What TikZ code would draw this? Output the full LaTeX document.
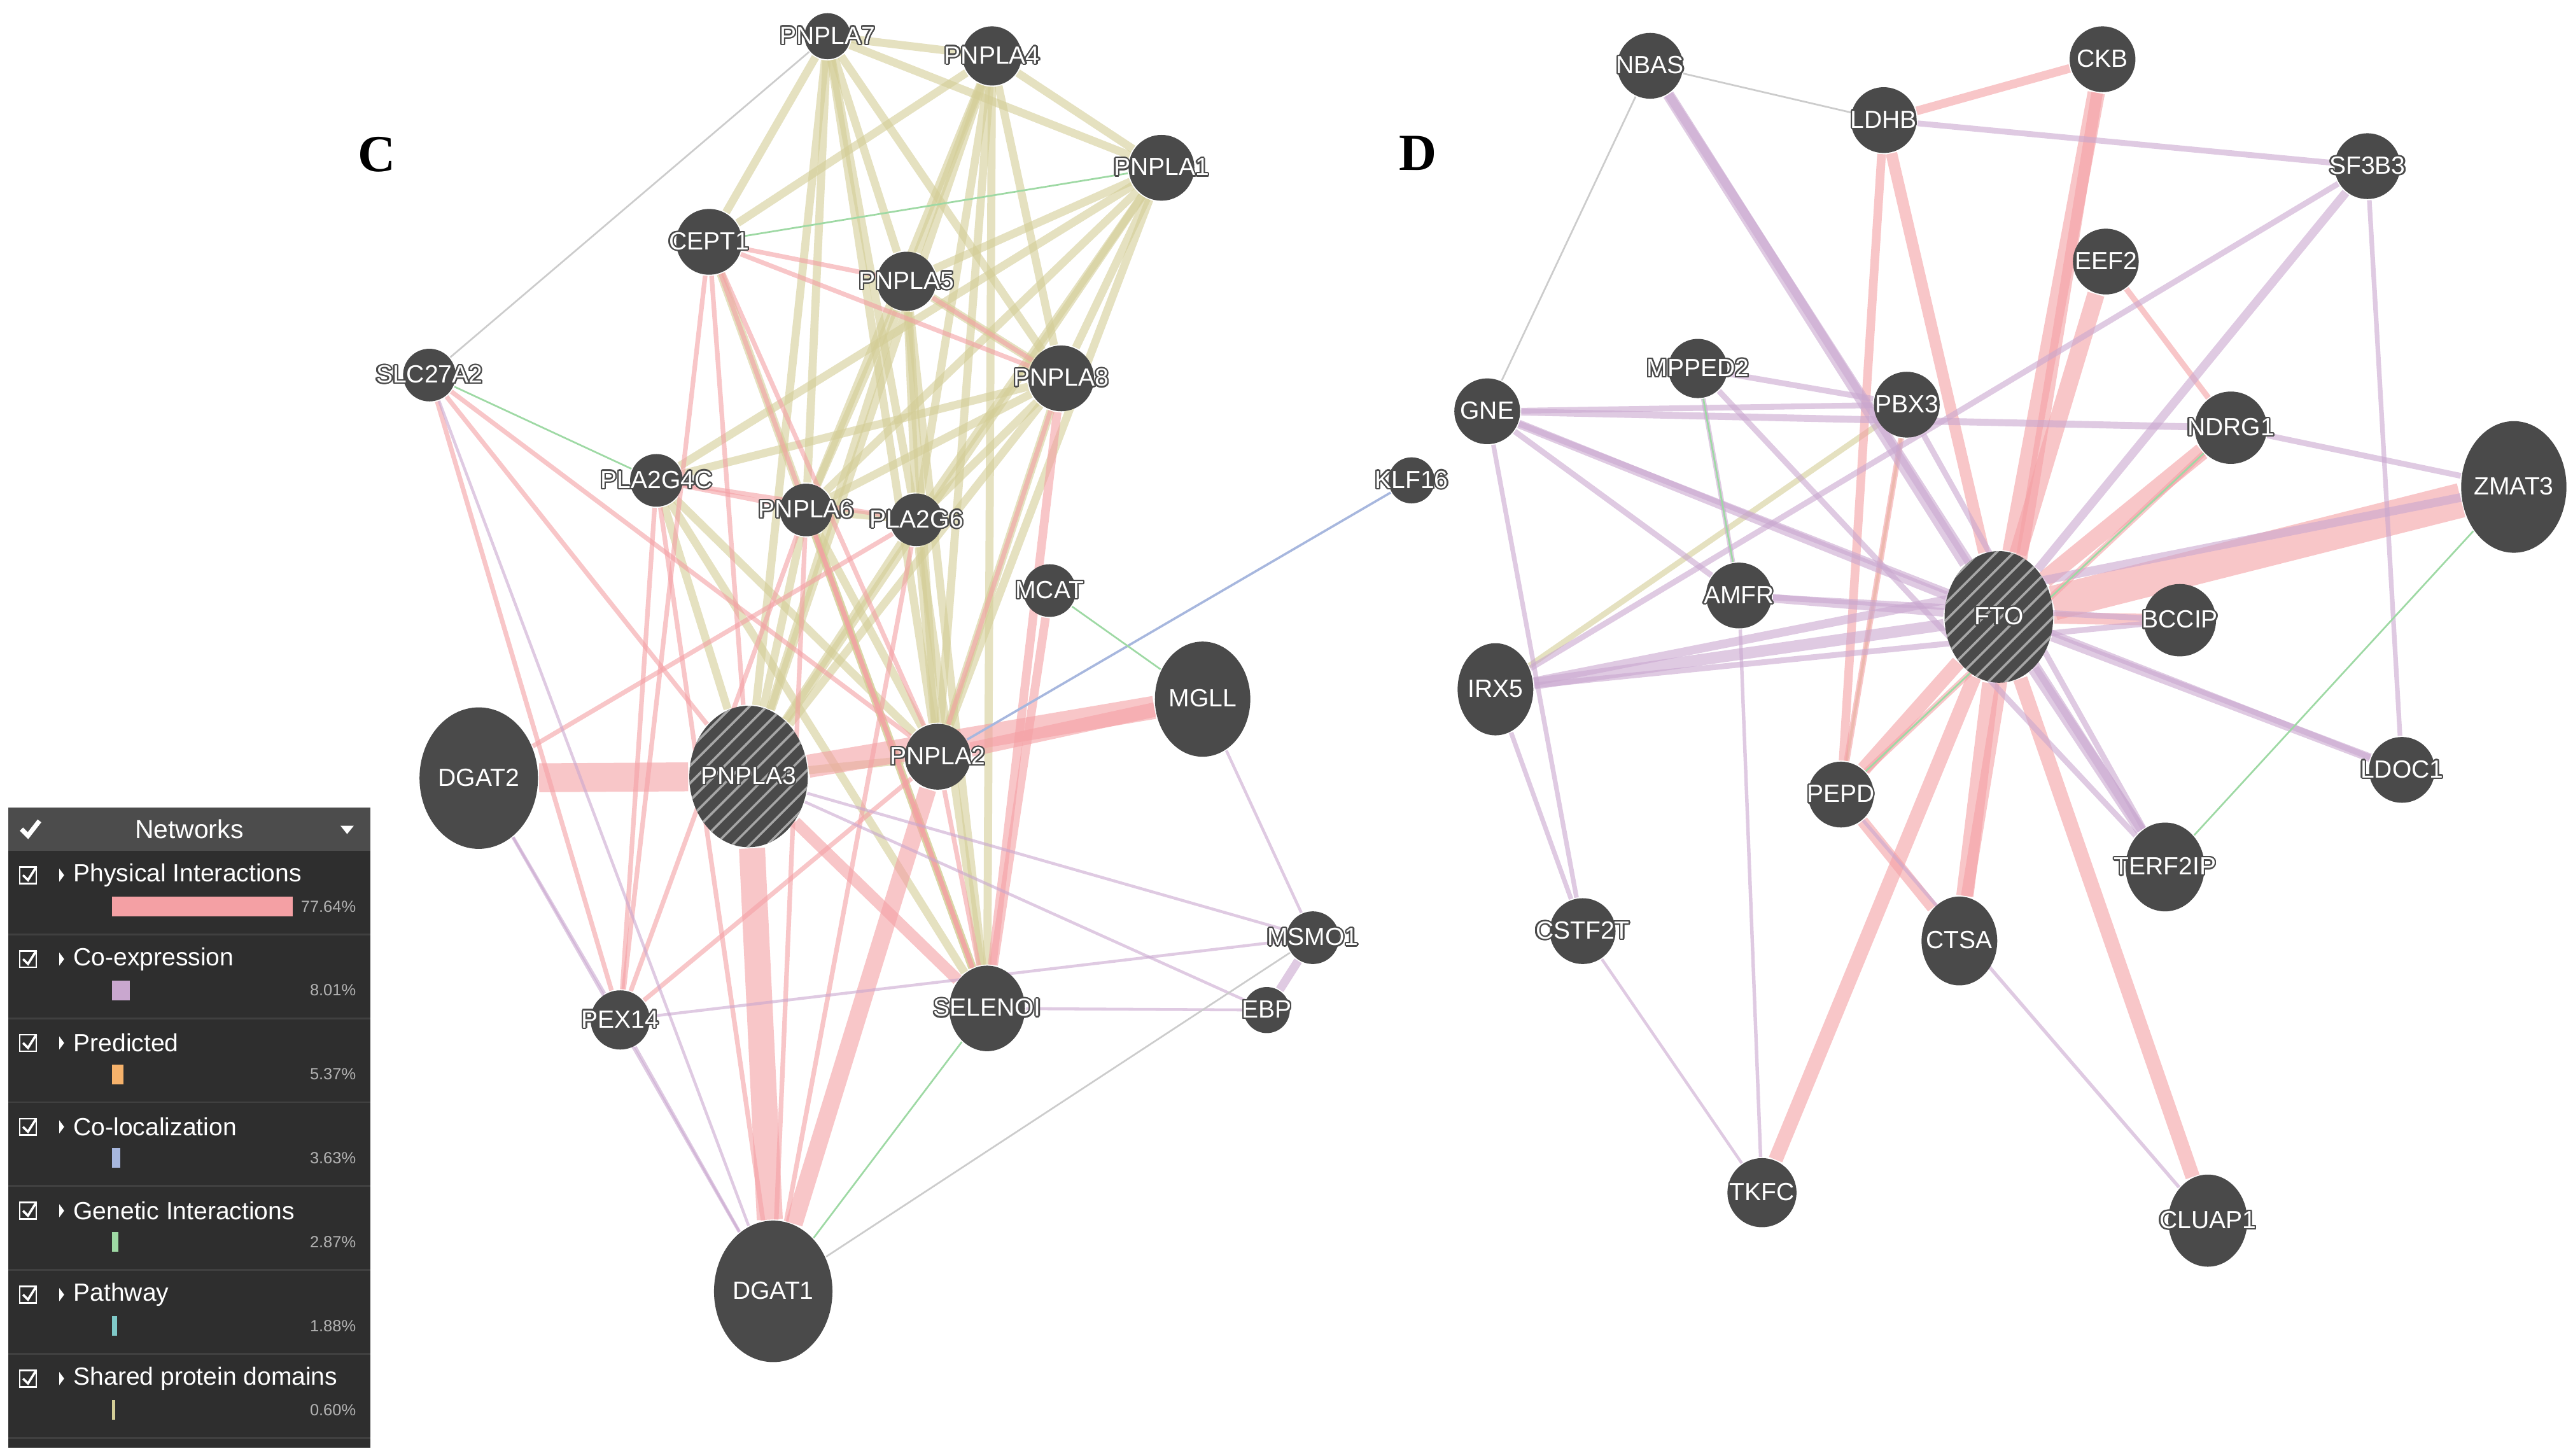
\documentclass[tikz,border=0pt]{standalone}
\usepackage{fontspec}
\setmainfont{Liberation Sans}
\newfontfamily\panelfont{Liberation Serif}
\usepackage[copies]{contour}
\contourlength{0.25pt}
\usetikzlibrary{patterns,backgrounds,shapes.geometric}
\definecolor{nodegray}{HTML}{4A4A4A}
\definecolor{physc}{HTML}{F4A0A4}
\definecolor{coexc}{HTML}{C9A7CF}
\definecolor{shdc}{HTML}{D3CD96}
\definecolor{colocc}{HTML}{A7B7DE}
\definecolor{genc}{HTML}{9ED9A4}
\definecolor{pathc}{HTML}{7FC9C8}
\definecolor{predc}{HTML}{F6B26B}
\definecolor{legbg}{HTML}{2E2E2E}
\newcommand\gt[1]{\contour{nodegray}{#1}}

\begin{document}
\begin{tikzpicture}[
    x=0.1mm, y=-0.1mm,
    gn/.style={circle, fill=nodegray, inner sep=0pt},
    gl/.style={text=white, inner sep=0pt, font=\fontsize{4.3}{5}\selectfont},
    hub/.style={gn, postaction={pattern=north east lines, pattern color=gray!70}},
    phys/.style={draw=physc, draw opacity=0.6, line width=0.5pt},
    coexp/.style={draw=coexc, draw opacity=0.6, line width=0.5pt},
    shd/.style={draw=shdc, draw opacity=0.6, line width=0.5pt},
    coloc/.style={draw=colocc, line width=0.4pt},
    gen/.style={draw=genc, line width=0.3pt},
    misc/.style={draw=gray!40, line width=0.3pt},
    legtxt/.style={text=white, anchor=west, inner sep=0pt, font=\fontsize{4.3}{5}\selectfont},
    legpct/.style={text=gray!60, anchor=east, inner sep=0pt, font=\fontsize{2.8}{3}\selectfont}
]
\useasboundingbox (0,0) rectangle (1564,885);

% panel labels
\node[font=\panelfont\bfseries\fontsize{9}{10}\selectfont] (labC) at (229,94) {C};
\node[font=\panelfont\bfseries\fontsize{9}{10}\selectfont] (labD) at (862,93) {D};

% panel C nodes
\node[gn, minimum size=2.8mm, label={[gl]center:\gt{PNPLA7}}] (pnpla7) at (503,22) {};
\node[gn, minimum size=3.6mm, label={[gl]center:\gt{PNPLA4}}] (pnpla4) at (603,34) {};
\node[gn, minimum size=4mm, label={[gl]center:\gt{PNPLA1}}] (pnpla1) at (706,102) {};
\node[gn, minimum size=4mm, label={[gl]center:\gt{CEPT1}}] (cept1) at (431,147) {};
\node[gn, minimum size=3.6mm, label={[gl]center:\gt{PNPLA5}}] (pnpla5) at (551,171) {};
\node[gn, minimum size=3.2mm, label={[gl]center:\gt{SLC27A2}}] (slc27a2) at (261,228) {};
\node[gn, minimum size=4mm, label={[gl]center:\gt{PNPLA8}}] (pnpla8) at (645,230) {};
\node[gn, minimum size=3.2mm, label={[gl]center:\gt{PLA2G4C}}] (pla2g4c) at (399,292) {};
\node[gn, minimum size=3.2mm, label={[gl]center:\gt{PNPLA6}}] (pnpla6) at (490,310) {};
\node[gn, minimum size=3.2mm, label={[gl]center:\gt{PLA2G6}}] (pla2g6) at (557,316) {};
\node[gn, minimum size=2.8mm, label={[gl]center:\gt{KLF16}}] (klf16) at (858,292) {};
\node[gn, minimum size=3.2mm, label={[gl]center:\gt{MCAT}}] (mcat) at (638,359) {};
\node[gn, ellipse, minimum width=5.8mm, minimum height=7mm, label={[gl]center:\gt{MGLL}}] (mgll) at (731,425) {};
\node[gn, ellipse, minimum width=7.2mm, minimum height=8.6mm, label={[gl]center:\gt{DGAT2}}] (dgat2) at (291,473) {};
\node[hub, ellipse, minimum width=7.2mm, minimum height=8.6mm, label={[gl]center:\gt{PNPLA3}}] (pnpla3) at (455,472) {};
\node[gn, minimum size=4mm, label={[gl]center:\gt{PNPLA2}}] (pnpla2) at (570,460) {};
\node[gn, minimum size=3.2mm, label={[gl]center:\gt{MSMO1}}] (msmo1) at (798,570) {};
\node[gn, ellipse, minimum width=4.6mm, minimum height=5.2mm, label={[gl]center:\gt{SELENOI}}] (selenoi) at (600,613) {};
\node[gn, minimum size=2.8mm, label={[gl]center:\gt{EBP}}] (ebp) at (770,614) {};
\node[gn, minimum size=3.6mm, label={[gl]center:\gt{PEX14}}] (pex14) at (377,620) {};
\node[gn, ellipse, minimum width=7.2mm, minimum height=8.6mm, label={[gl]center:\gt{DGAT1}}] (dgat1) at (470,785) {};

% panel D nodes
\node[gn, minimum size=4mm, label={[gl]center:\gt{NBAS}}] (nbas) at (1003,40) {};
\node[gn, minimum size=4mm, label={[gl]center:\gt{CKB}}] (ckb) at (1278,36) {};
\node[gn, minimum size=4mm, label={[gl]center:\gt{LDHB}}] (ldhb) at (1145,73) {};
\node[gn, minimum size=4mm, label={[gl]center:\gt{SF3B3}}] (sf3b3) at (1439,101) {};
\node[gn, minimum size=4mm, label={[gl]center:\gt{EEF2}}] (eef2) at (1280,159) {};
\node[gn, minimum size=3.6mm, label={[gl]center:\gt{MPPED2}}] (mpped2) at (1032,224) {};
\node[gn, minimum size=4mm, label={[gl]center:\gt{PBX3}}] (pbx3) at (1159,246) {};
\node[gn, minimum size=4mm, label={[gl]center:\gt{GNE}}] (gne) at (904,250) {};
\node[gn, minimum size=4.4mm, label={[gl]center:\gt{NDRG1}}] (ndrg1) at (1356,260) {};
\node[gn, ellipse, minimum width=6.4mm, minimum height=8mm, label={[gl]center:\gt{ZMAT3}}] (zmat3) at (1528,296) {};
\node[gn, minimum size=4mm, label={[gl]center:\gt{AMFR}}] (amfr) at (1057,362) {};
\node[hub, ellipse, minimum width=6.6mm, minimum height=8mm, label={[gl]center:\gt{FTO}}] (fto) at (1215,375) {};
\node[gn, minimum size=4.4mm, label={[gl]center:\gt{BCCIP}}] (bccip) at (1325,377) {};
\node[gn, ellipse, minimum width=4.6mm, minimum height=5.6mm, label={[gl]center:\gt{IRX5}}] (irx5) at (909,419) {};
\node[gn, minimum size=4mm, label={[gl]center:\gt{LDOC1}}] (ldoc1) at (1460,468) {};
\node[gn, minimum size=4mm, label={[gl]center:\gt{PEPD}}] (pepd) at (1119,483) {};
\node[gn, ellipse, minimum width=4.8mm, minimum height=5.4mm, label={[gl]center:\gt{TERF2IP}}] (terf2ip) at (1316,527) {};
\node[gn, minimum size=4mm, label={[gl]center:\gt{CSTF2T}}] (cstf2t) at (962,566) {};
\node[gn, ellipse, minimum width=4.6mm, minimum height=5.4mm, label={[gl]center:\gt{CTSA}}] (ctsa) at (1191,572) {};
\node[gn, minimum size=4.2mm, label={[gl]center:\gt{TKFC}}] (tkfc) at (1071,725) {};
\node[gn, ellipse, minimum width=4.8mm, minimum height=5.6mm, label={[gl]center:\gt{CLUAP1}}] (cluap1) at (1342,742) {};

\begin{pgfonlayer}{background}
% shared protein domains
\foreach \a/\b in {pnpla7/pnpla4,pnpla7/pnpla1,pnpla7/pnpla5,pnpla7/pnpla8,pnpla7/pnpla6,pnpla7/pla2g6,pnpla7/pnpla2,pnpla7/pnpla3,pnpla7/cept1,
    pnpla4/pnpla1,pnpla4/pnpla5,pnpla4/pnpla8,pnpla4/pnpla6,pnpla4/pla2g6,pnpla4/pnpla2,pnpla4/pnpla3,pnpla4/cept1,pnpla4/selenoi,
    pnpla1/pnpla5,pnpla1/pnpla8,pnpla1/pnpla6,pnpla1/pla2g6,pnpla1/pnpla2,pnpla1/pnpla3,pnpla1/pla2g4c,
    pnpla5/pnpla8,pnpla5/pnpla6,pnpla5/pla2g6,pnpla5/pnpla2,pnpla5/pnpla3,pnpla5/selenoi,
    pnpla8/pnpla6,pnpla8/pla2g6,pnpla8/pnpla2,pnpla8/pnpla3,pnpla8/pla2g4c,
    pnpla6/pla2g6,pnpla6/pnpla2,pnpla6/pnpla3,pnpla6/selenoi,pla2g6/pnpla2,pla2g6/pnpla3,pla2g6/selenoi,
    pla2g4c/pnpla3,pla2g4c/pnpla2,pla2g4c/selenoi,pnpla2/pnpla3,cept1/selenoi}
  \draw[shd, line width=1.4pt] (\a) -- (\b);
\draw[shd, line width=1pt] (irx5) -- (pbx3);
\draw[shd] (pepd) -- (pbx3);
% physical interactions, panel C
\draw[phys, line width=5pt] (dgat2) -- (pnpla3);
\draw[phys, line width=4pt] (pnpla3) -- (mgll);
\draw[phys, line width=4.5pt] (pnpla3) -- (dgat1);
\draw[phys, line width=3pt] (pnpla2) -- (dgat1);
\draw[phys, line width=2.5pt] (pnpla2) -- (mgll);
\draw[phys, line width=2pt] (pnpla3) -- (selenoi);
\draw[phys, line width=1.5pt] (pnpla8) -- (selenoi);
\draw[phys, line width=1.5pt] (mcat) -- (selenoi);
\foreach \a/\b in {cept1/pnpla3,cept1/pnpla2,cept1/selenoi,cept1/pnpla8,cept1/pex14,cept1/pnpla5,slc27a2/pex14,slc27a2/pnpla3,slc27a2/pnpla2,
    pla2g4c/pex14,pla2g4c/pnpla6,pla2g4c/pla2g6,pex14/pnpla2,pex14/pnpla6,pnpla5/pnpla8,pnpla6/selenoi,pnpla6/dgat1,pla2g6/dgat1,
    pnpla8/pnpla2,pnpla2/selenoi,pla2g4c/dgat1,dgat2/pla2g6}
  \draw[phys, line width=0.8pt] (\a) -- (\b);
\foreach \a/\b in {pex14/msmo1,selenoi/ebp,pnpla3/ebp,pnpla3/msmo1,mgll/msmo1,dgat2/dgat1,dgat2/pex14,pex14/dgat1,slc27a2/dgat1}
  \draw[coexp] (\a) -- (\b);
\draw[coexp, line width=1.5pt] (msmo1) -- (ebp);
\draw[coloc] (pnpla2) -- (klf16);
\draw[misc] (slc27a2) -- (pnpla7);
\draw[misc] (dgat1) -- (msmo1);
\draw[gen] (slc27a2) -- (pla2g4c);
\draw[gen] (pnpla1) -- (cept1);
\draw[gen] (mcat) -- (mgll);
\draw[gen] (selenoi) -- (dgat1);
% physical interactions, panel D
\draw[phys, line width=6pt] (fto) -- (zmat3);
\foreach \a/\b/\w in {fto/ckb/3pt,fto/eef2/3pt,fto/ldhb/2pt,fto/ctsa/3pt,fto/tkfc/2.5pt,fto/cluap1/2.5pt,fto/pepd/2.5pt,
    fto/ndrg1/3pt,fto/bccip/2pt,pepd/ctsa/2pt,ckb/ldhb/1.5pt,ldhb/pepd/1.5pt,eef2/ndrg1/1pt,ckb/ctsa/2pt,pbx3/pepd/1pt,ndrg1/pepd/1pt}
  \draw[phys, line width=\w] (\a) -- (\b);
\foreach \a/\b/\w in {fto/nbas/2pt,fto/gne/1.5pt,fto/irx5/2pt,fto/amfr/1.5pt,fto/sf3b3/1.5pt,fto/terf2ip/2pt,fto/ldoc1/1.5pt,
    gne/amfr/1pt,gne/ndrg1/1.2pt,irx5/zmat3/1.5pt,irx5/cstf2t/0.8pt,gne/cstf2t/0.8pt,mpped2/amfr/0.8pt,pbx3/terf2ip/1pt,
    nbas/terf2ip/1.5pt,ldhb/sf3b3/1pt,sf3b3/ldoc1/0.8pt,amfr/tkfc/0.6pt,zmat3/ndrg1/1pt,mpped2/pbx3/1pt,gne/pbx3/1pt,
    amfr/bccip/1pt,gne/ldoc1/1pt,irx5/sf3b3/1pt,mpped2/terf2ip/1pt,pepd/cluap1/0.6pt,cstf2t/tkfc/0.5pt,irx5/bccip/1pt}
  \draw[coexp, line width=\w] (\a) -- (\b);
\draw[gen] (zmat3) -- (terf2ip);
\draw[gen] (amfr) -- (mpped2);
\draw[gen] (ndrg1) -- (pepd);
\draw[misc] (gne) -- (nbas);
\draw[misc] (nbas) -- (ldhb);
\end{pgfonlayer}

% legend
\fill[legbg] (5,491) rectangle (225,880);
\fill[gray!60!black] (5,491) rectangle (225,517);
\node[text=white, font=\fontsize{4.5}{5}\selectfont] (legtitle) at (115,504) {Networks};
\draw[white, line width=0.8pt] (13,504) -- (17,508) -- (24,499);
\fill[white] (207,502) -- (215,502) -- (211,507) -- cycle;
\foreach \i/\t/\p/\c/\w in {0/Physical Interactions/77.64\%/physc/110,1/Co-expression/8.01\%/coexc/11,2/Predicted/5.37\%/predc/7,
    3/Co-localization/3.63\%/colocc/5,4/Genetic Interactions/2.87\%/genc/4,5/Pathway/1.88\%/pathc/3,6/Shared protein domains/0.60\%/shdc/2}{
  \pgfmathsetmacro{\yy}{532+51*\i}
  \draw[white, line width=0.3pt] (12,\yy-5) rectangle (22,\yy+5);
  \draw[white, line width=0.4pt] (14,\yy) -- (17,\yy+3) -- (22,\yy-5);
  \fill[white] (36,\yy-4) -- (39,\yy) -- (36,\yy+4) -- cycle;
  \node[legtxt] (leg\i) at (44,\yy) {\t};
  \fill[\c] (68,\yy+13) rectangle (68+\w,\yy+25);
  \node[legpct] (pct\i) at (217,\yy+19) {\p};
  \draw[gray!50!black, line width=0.3pt] (5,\yy+36) -- (225,\yy+36);
}
\end{tikzpicture}
\end{document}
